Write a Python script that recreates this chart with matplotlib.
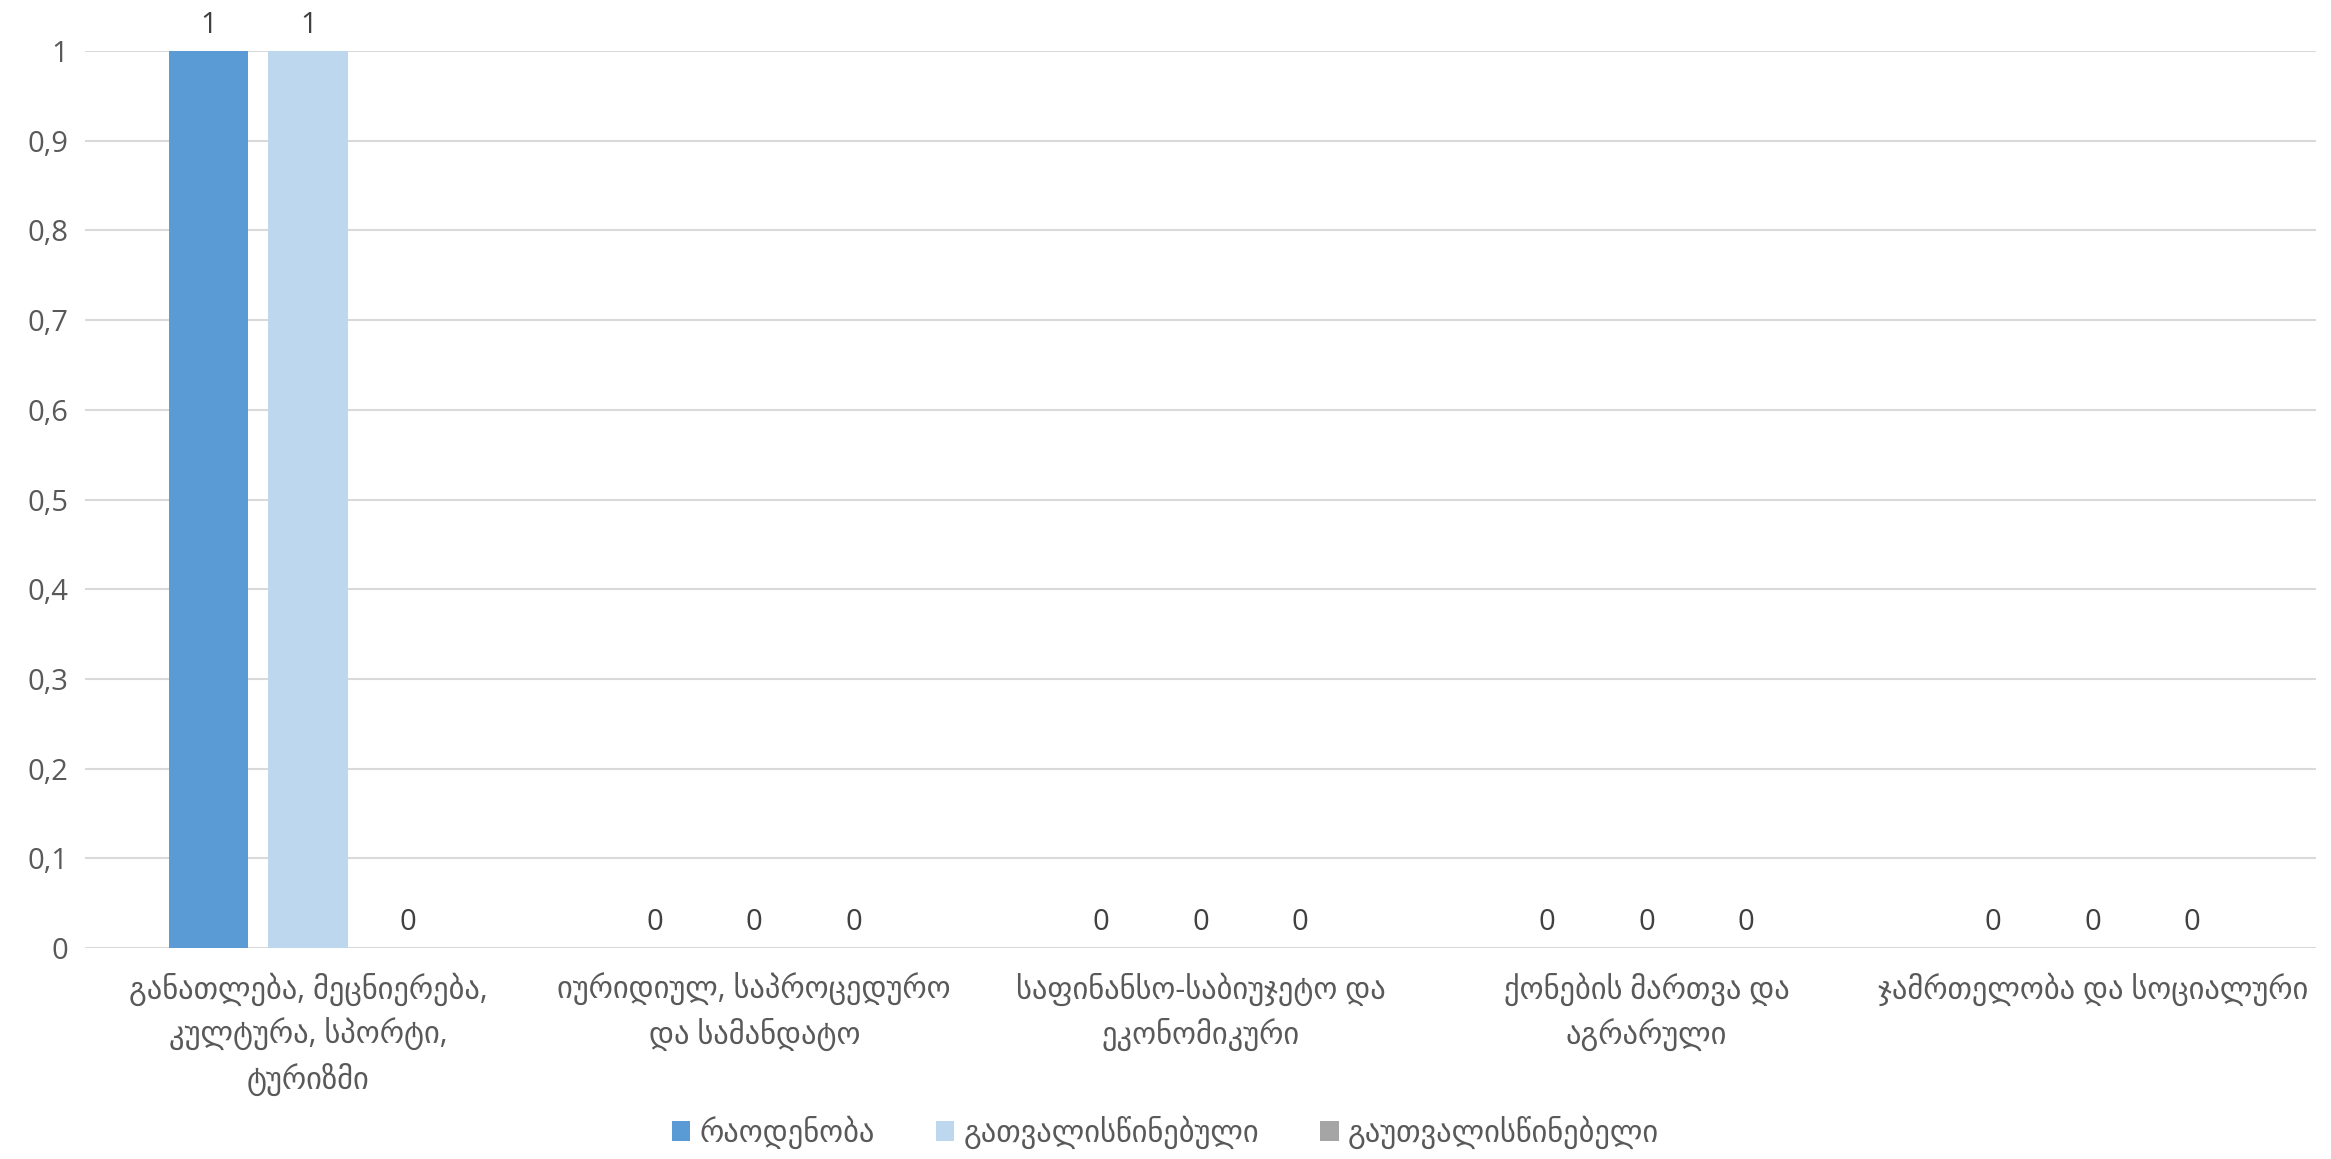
import matplotlib.pyplot as plt
import numpy as np

plt.rcParams['font.family'] = ['Open Sans', 'DejaVu Sans']

categories = ['განათლება, მეცნიერება,\nკულტურა, სპორტი,\nტურიზმი',
              'იურიდიულ, საპროცედურო\nდა სამანდატო',
              'საფინანსო-საბიუჯეტო და\nეკონომიკური',
              'ქონების მართვა და\nაგრარული',
              'ჯამრთელობა და სოციალური']
series_names = ['რაოდენობა', 'გათვალისწინებული', 'გაუთვალისწინებელი']
raodenoba = [1, 0, 0, 0, 0]
gatvaliswinebuli = [1, 0, 0, 0, 0]
gautvaliswinebeli = [0, 0, 0, 0, 0]
colors = ['#5B9BD5', '#BDD7EE', '#A5A5A5']

fig = plt.figure(figsize=(23.31, 11.59), dpi=100)
ax = fig.add_axes([0.0365, 0.182, 0.957, 0.774])

x = np.arange(len(categories))
slot = 0.223
width = 0.178
for i, vals in enumerate([raodenoba, gatvaliswinebuli, gautvaliswinebeli]):
    pos = x + (i - 1) * slot
    bars = ax.bar(pos, vals, width, color=colors[i], label=series_names[i], zorder=3)
    for b, v in zip(bars, vals):
        ax.text(b.get_x() + b.get_width() / 2, v + 0.012, str(v), ha='center', va='bottom',
                fontsize=21, color='#404040', clip_on=False)

ax.set_xlim(-0.5, len(categories) - 0.5)
ax.set_ylim(0, 1)
yt = np.round(np.arange(0, 1.01, 0.1), 1)
ax.set_yticks(yt)
ax.set_yticklabels([('%g' % t).replace('.', ',') for t in yt], fontsize=21, color='#595959')
ax.set_xticks(x)
ax.set_xticklabels(categories, fontsize=22, color='#595959', linespacing=1.45)
ax.tick_params(axis='both', length=0)
ax.tick_params(axis='x', pad=18)
ax.tick_params(axis='y', pad=12)
ax.grid(axis='y', color='#D9D9D9', linewidth=1.5, zorder=0)
for s in ax.spines.values():
    s.set_visible(False)

leg = fig.legend(loc='lower center', bbox_to_anchor=(0.5, -0.015), ncol=3, frameon=False,
                 fontsize=22, handlelength=0.6, handleheight=0.6, handletextpad=0.3,
                 columnspacing=2.0)
for t in leg.get_texts():
    t.set_color('#595959')

fig.savefig('out.png', dpi=100)
